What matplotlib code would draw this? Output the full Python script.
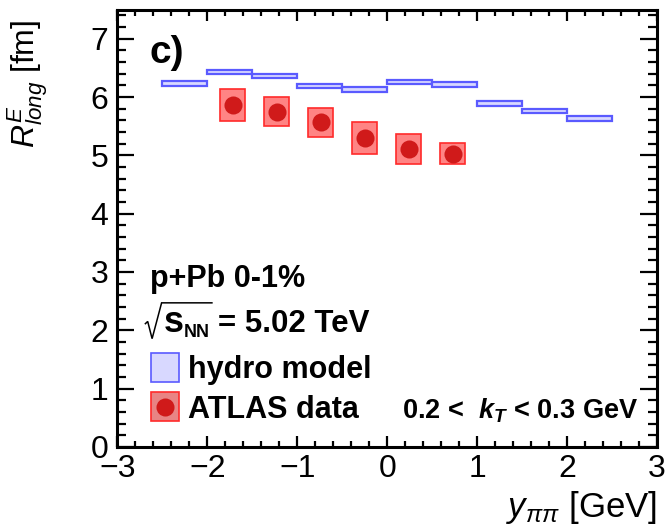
import matplotlib
matplotlib.use('Agg')
import matplotlib.pyplot as plt
from matplotlib.patches import Rectangle
from matplotlib.lines import Line2D
from matplotlib.ticker import MultipleLocator

plt.rcParams['font.family'] = ['Liberation Sans', 'DejaVu Sans']
plt.rcParams['mathtext.fontset'] = 'custom'
plt.rcParams['mathtext.rm'] = 'Liberation Sans'
plt.rcParams['mathtext.it'] = 'Liberation Sans:italic'
plt.rcParams['mathtext.bf'] = 'Liberation Sans:bold'
plt.rcParams['mathtext.bfit'] = 'Liberation Sans:italic:bold'

# ---- data ----
hydro_x = [-2.25, -1.75, -1.25, -0.75, -0.25, 0.25, 0.75, 1.25, 1.75, 2.25]
hydro_val = [6.23, 6.43, 6.36, 6.19, 6.13, 6.26, 6.21, 5.89, 5.76, 5.63]
hydro_halfwidth = 0.25
hydro_unc = 0.04

atlas_x = [-1.72, -1.23, -0.74, -0.25, 0.24, 0.73]
atlas_val = [5.86, 5.75, 5.57, 5.30, 5.11, 5.03]
atlas_sys = [0.27, 0.25, 0.25, 0.27, 0.25, 0.18]
atlas_box_halfwidth = 0.14

xticks = [-3, -2, -1, 0, 1, 2, 3]
yticks = [0, 1, 2, 3, 4, 5, 6, 7]

# ---- figure ----
fig = plt.figure(figsize=(6.67, 5.32), dpi=100)
ax = fig.add_axes([0.176, 0.160, 0.809, 0.822])

hydro_face = '#d8d8ff'
hydro_edge = '#5a5aff'
atlas_face = '#ff8484'
atlas_edge = '#ff2a2a'
marker_col = '#d01a1a'

ax.bar(hydro_x, [2 * hydro_unc] * len(hydro_x),
       bottom=[v - hydro_unc for v in hydro_val],
       width=2 * hydro_halfwidth, color=hydro_face, edgecolor=hydro_edge,
       linewidth=1.6, zorder=2)

ax.bar(atlas_x, [2 * s for s in atlas_sys],
       bottom=[v - s for v, s in zip(atlas_val, atlas_sys)],
       width=2 * atlas_box_halfwidth, color=atlas_face, edgecolor=atlas_edge,
       linewidth=1.2, zorder=3)
ax.plot(atlas_x, atlas_val, 'o', color=marker_col, markersize=13,
        markeredgewidth=0, zorder=4)

ax.set_xlim(-3, 3)
ax.set_ylim(0, 7.5)
ax.set_xticks(xticks)
ax.set_yticks(yticks)
ax.xaxis.set_minor_locator(MultipleLocator(0.2))
ax.yaxis.set_minor_locator(MultipleLocator(0.2))
for s in ax.spines.values():
    s.set_linewidth(2.2)
ax.tick_params(which='both', direction='in', top=True, right=True,
               width=1.6, labelsize=23)
ax.tick_params(axis='x', which='major', length=8, pad=5)
ax.tick_params(axis='x', which='minor', length=4)
ax.tick_params(axis='y', which='major', length=12.5, pad=6.5)
ax.tick_params(axis='y', which='minor', length=6.5)

ax.set_ylabel(r'$R^{E}_{long}$ [fm]', fontsize=23, loc='top')
ax.yaxis.set_label_coords(-0.125, 0.977)
ax.set_xlabel(r'$y_{\pi\pi}$ [GeV]', fontsize=25, loc='right')
ax.xaxis.set_label_coords(1.0, -0.097)


def axfrac(px, py):
    """convert reference pixel position to axes fraction"""
    return (px - 117.5) / 539.5, (446.7 - py) / 437.2


T = ax.transAxes

# ---- annotations ----
ax.text(*axfrac(150, 63.3), 'c)', transform=T, fontsize=28,
        fontweight='bold', va='baseline', ha='left')
ax.text(*axfrac(150, 287.3), 'p+Pb 0-1%', transform=T, fontsize=22,
        fontweight='bold', va='baseline', ha='left')

# sqrt(s_NN) = 5.02 TeV
rad = [axfrac(145.5, 323.5), axfrac(147.8, 321.3), axfrac(152.2, 338.5),
       axfrac(161.7, 302.7), axfrac(212.0, 302.7)]
ax.add_line(Line2D([p[0] for p in rad], [p[1] for p in rad], color='black',
                   linewidth=1.1, transform=T, solid_joinstyle='miter',
                   clip_on=False))
ax.text(*axfrac(163.5, 331.7), 's', transform=T, fontsize=26,
        fontweight='bold', va='baseline', ha='left')
ax.text(*axfrac(184.0, 337.0), 'NN', transform=T, fontsize=13,
        fontweight='bold', va='baseline', ha='left')
ax.text(*axfrac(218, 331.7), '= 5.02 TeV', transform=T, fontsize=22.5,
        fontweight='bold', va='baseline', ha='left')

# legend
x0, ytop = axfrac(150.7, 353.3)
x1, ybot = axfrac(179.3, 381.7)
ax.add_patch(Rectangle((x0, ybot), x1 - x0, ytop - ybot, transform=T,
                       facecolor=hydro_face, edgecolor=hydro_edge,
                       linewidth=1.2, zorder=5))
_, ytop2 = axfrac(150.7, 392.3)
_, ybot2 = axfrac(179.3, 421.0)
ax.add_patch(Rectangle((x0, ybot2), x1 - x0, ytop2 - ybot2, transform=T,
                       facecolor='#e88484', edgecolor=atlas_edge,
                       linewidth=1.2, zorder=5))
ax.add_line(Line2D([(x0 + x1) / 2], [(ytop2 + ybot2) / 2], marker='o',
                   color=marker_col, markersize=13, markeredgewidth=0,
                   transform=T, zorder=6))
ax.text(*axfrac(188, 378.3), 'hydro model', transform=T, fontsize=22,
        fontweight='bold', va='baseline', ha='left')
ax.text(*axfrac(188, 418.3), 'ATLAS data', transform=T, fontsize=22,
        fontweight='bold', va='baseline', ha='left')
ax.text(*axfrac(638, 418.3), r'0.2 <  $\mathbfit{k}_{\mathbfit{T}}$ < 0.3 GeV',
        transform=T, fontsize=19.5, fontweight='bold',
        va='baseline', ha='right')

fig.savefig('out.png', dpi=100)
